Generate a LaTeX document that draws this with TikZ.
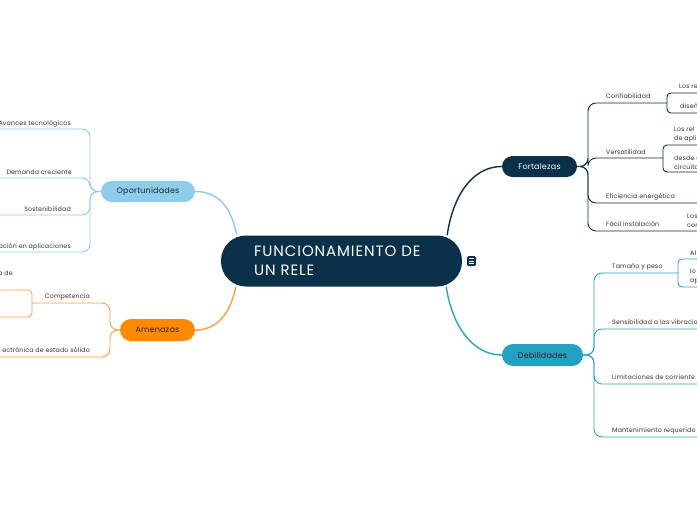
\documentclass[tikz,border=0pt]{standalone}
\usepackage{fontspec}
\setmainfont{Poppins}
\newfontfamily\titlefont[LetterSpace=6]{Poppins}
\newfontfamily\smallfont[LetterSpace=2.5]{Poppins}
\usetikzlibrary{calc}
\definecolor{navy}{HTML}{0B3049}
\definecolor{debcol}{HTML}{23A0C2}
\definecolor{debline}{HTML}{2BA3C6}
\definecolor{oportcol}{HTML}{8FCBEA}
\definecolor{oportline}{HTML}{8ECAE8}
\definecolor{amencol}{HTML}{FF8A00}
\definecolor{amenline}{HTML}{FF9F40}
\definecolor{txt}{HTML}{333333}
\tikzset{
  topic/.style={rounded corners=10.5pt, minimum height=21pt, inner sep=0pt, font=\smallfont\fontsize{8}{9}\selectfont},
  lbl/.style={inner sep=0pt, font=\smallfont\fontsize{6.3}{9}\selectfont, text=txt, align=left},
  lblr/.style={inner sep=0pt, font=\smallfont\fontsize{6.3}{9}\selectfont, text=txt, align=right},
  mainline/.style={line width=1.4pt},
  forkline/.style={line width=0.9pt, rounded corners=8pt},
  subfork/.style={line width=0.9pt, rounded corners=4pt},
}
\begin{document}
\begin{tikzpicture}[x=1pt,y=-1pt]
\useasboundingbox (0,0) rectangle (697,520);
\fill[white] (0,0) rectangle (697,520);
\clip (0,0) rectangle (697,520);

% central node
\node[fill=navy, rounded corners=25pt, minimum width=241pt, minimum height=51pt,
      text width=175pt, align=left, text=white, inner sep=0pt,
      font=\titlefont\fontsize{15}{19.5}\selectfont] (main) at (341.5,261) {FUNCIONAMIENTO DE\\UN RELE};
\node[fill=navy, rounded corners=1.5pt, minimum width=9pt, minimum height=10pt, inner sep=0pt] (icon) at (471.5,261) {};
\foreach \dy in {-2.5,0,2.5}
  \draw[white, line width=0.7pt] ($(icon.center)+(-2.5,\dy)$) -- ++(5,0);

% main topics
\node[topic, fill=navy, text=white, minimum width=75pt] (fort) at (539.5,166.5) {Fortalezas};
\node[topic, fill=debcol, text=black!85, minimum width=81pt, minimum height=22pt, rounded corners=11pt] (deb) at (542.5,355) {Debilidades};
\node[topic, fill=oportcol, text=black!85, minimum width=94pt] (oport) at (148,191.5) {Oportunidades};
\node[topic, fill=amencol, text=black!85, minimum width=75pt, minimum height=22pt, rounded corners=11pt] (amen) at (157.5,330) {Amenazas};

% connectors from the centre
\draw[navy, mainline] ([xshift=-15pt]main.north east) .. controls (452,200) and (470,166.5) .. (fort.west);
\draw[debline, mainline] ([xshift=-16pt]main.south east) .. controls (452,325) and (472,355) .. (deb.west);
\draw[oportline, mainline] ([xshift=16pt]main.north west) .. controls (232,212) and (222,191.5) .. (oport.east);
\draw[amenline, mainline] ([xshift=15pt]main.south west) .. controls (232,306) and (222,330) .. (amen.east);

% ---------- Fortalezas ----------
\node[lbl, anchor=base west] (conf) at (606,98.5) {Confiabilidad};
\node[lbl, anchor=base west] (vers) at (606,154) {Versatilidad};
\node[lbl, anchor=base west] (efic) at (606,198.5) {Eficiencia energética};
\node[lbl, anchor=base west] (facil) at (606,226) {Fácil instalación};
\coordinate (confE) at (667,103);
\coordinate (versE) at (663,158);
\coordinate (eficE) at (700,203);
\coordinate (facilE) at (700,231);
\foreach \c in {confE,versE,eficE,facilE}
  \draw[navy, forkline] (fort.east) -- (588,166.5) |- (\c);

\node[lbl, anchor=base west] (conf1) at (679,88.5) {Los re};
\node[lbl, anchor=base west] (conf2) at (680,108.5) {diseño};
\coordinate (conf1E) at (700,93);
\coordinate (conf2E) at (700,113);
\draw[navy, subfork] (confE) |- (conf1E);
\draw[navy, subfork] (confE) |- (conf2E);

\node[lbl, anchor=south west] (vers1) at (674,142.5) {Los rel\\de apli};
\node[lbl, anchor=south west] (vers2) at (674,169.5) {desde e\\circuito};
\coordinate (vers1E) at (700,145);
\coordinate (vers2E) at (700,172);
\draw[navy, subfork] (versE) |- (vers1E);
\draw[navy, subfork] (versE) |- (vers2E);

\node[lbl, anchor=south west] (facil1) at (687,228) {Los\\con};

% ---------- Debilidades ----------
\node[lbl, anchor=base west] (tam) at (612,268.5) {Tamaño y peso};
\node[lbl, anchor=base west] (sens) at (612,324.5) {Sensibilidad a las vibraciones};
\node[lbl, anchor=base west] (limi) at (612,379.5) {Limitaciones de corriente};
\node[lbl, anchor=base west] (mant) at (612,432.5) {Mantenimiento requerido};
\coordinate (tamE) at (678,273);
\coordinate (sensE) at (700,329);
\coordinate (limiE) at (700,384);
\coordinate (mantE) at (700,437);
\foreach \c in {tamE,sensE,limiE,mantE}
  \draw[debline, forkline] (deb.east) -- (594,355) |- (\c);

\node[lbl, anchor=base west] (tam1) at (690,255) {Al};
\node[lbl, anchor=south west] (tam2) at (690,284.5) {lo\\ap};
\coordinate (tam1E) at (700,259);
\coordinate (tam2E) at (700,287);
\draw[debline, subfork] (tamE) |- (tam1E);
\draw[debline, subfork] (tamE) |- (tam2E);

% ---------- Oportunidades ----------
\node[lblr, anchor=base east] (avan) at (71,125) {Avances tecnológicos};
\node[lblr, anchor=base east] (dema) at (72,174) {Demanda creciente};
\node[lblr, anchor=base east] (sost) at (71,211) {Sostenibilidad};
\node[lblr, anchor=base east] (apli) at (71,248.5) {ación en aplicaciones};
\coordinate (avanW) at (-3,129);
\coordinate (demaW) at (-3,178);
\coordinate (sostW) at (-3,215);
\coordinate (apliW) at (-3,252);
\foreach \c in {avanW,demaW,sostW,apliW}
  \draw[oportline, forkline] (oport.west) -- (90,191.5) |- (\c);

% ---------- Amenazas ----------
\node[lblr, anchor=base east] (comp) at (90,298.5) {Competencia};
\node[lblr, anchor=base east] (elec) at (90,352.5) {ectrónica de estado sólido};
\coordinate (compW) at (32,303);
\coordinate (elecW) at (-3,357);
\draw[amenline, forkline] (amen.west) -- (110,330) |- (compW);
\draw[amenline, forkline] (amen.west) -- (110,330) |- (elecW);

\node[lblr, anchor=base east] (comp1) at (13,275.5) {a de};
\coordinate (comp1W) at (-3,290);
\coordinate (comp2W) at (-3,317);
\draw[amenline, subfork] (compW) |- (comp1W);
\draw[amenline, subfork] (compW) |- (comp2W);
\end{tikzpicture}
\end{document}
